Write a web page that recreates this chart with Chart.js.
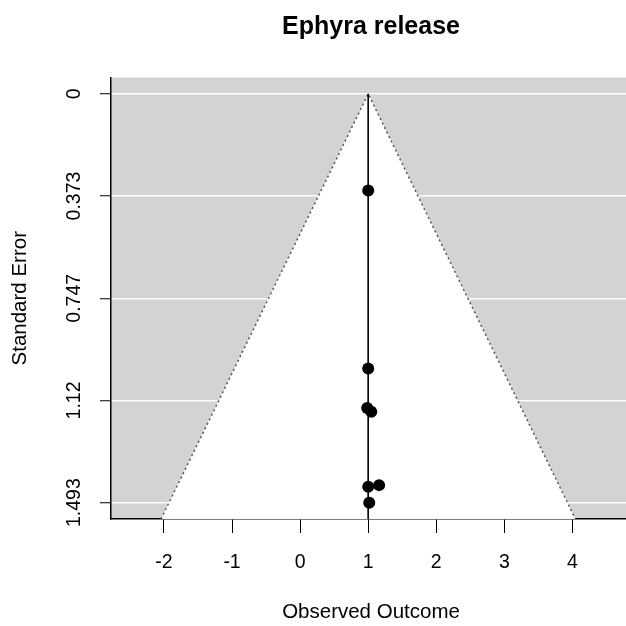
<!DOCTYPE html>
<html>
<head>
<meta charset="utf-8">
<script src="https://cdn.jsdelivr.net/npm/chart.js@4"></script>
<style>
  html, body { margin: 0; padding: 0; background: #fff; overflow: hidden; }
  #wrap { width: 742px; height: 626px; }
</style>
</head>
<body>
<div id="wrap"><canvas id="funnel" width="742" height="626"></canvas></div>
<script>
// study effects and their standard errors
const observedOutcome = [1.00, 1.00, 0.985, 1.045, 1.00, 1.16, 1.015];
const standardError = [0.353, 1.003, 1.147, 1.161, 1.435, 1.429, 1.493];
const pooledEstimate = 1.0;

const seTicks = [0, 0.37325, 0.7465, 1.11975, 1.493];
const seTickLabels = ['0', '0.373', '0.747', '1.12', '1.493'];
const outcomeTicks = [-2, -1, 0, 1, 2, 3, 4];
const seRange = [-0.0597, 1.5527];
const outcomeRange = [-2.778, 4.86];

const points = observedOutcome.map((v, i) => ({ x: v, y: standardError[i] }));
const seBottom = seRange[1];
// 95% pseudo confidence region
const funnel = [
  { x: pooledEstimate - 1.96 * seBottom, y: seBottom },
  { x: pooledEstimate, y: 0 },
  { x: pooledEstimate + 1.96 * seBottom, y: seBottom }
];
const refLine = [{ x: pooledEstimate, y: 0 }, { x: pooledEstimate, y: seBottom }];

const plotBackground = {
  id: 'plotBackground',
  beforeDraw(chart) {
    const { ctx, chartArea: a } = chart;
    ctx.save();
    ctx.fillStyle = '#d3d3d3';
    ctx.fillRect(a.left, a.top, a.right - a.left, a.bottom - a.top);
    ctx.restore();
  }
};

const font = 'Liberation Sans, Arial, Helvetica, sans-serif';

new Chart(document.getElementById('funnel'), {
  type: 'scatter',
  data: {
    datasets: [
      {
        label: 'Studies',
        data: points,
        order: 1,
        pointRadius: 6,
        pointBackgroundColor: '#000',
        pointBorderColor: '#000',
        pointBorderWidth: 0
      },
      {
        type: 'line',
        label: 'Estimate',
        data: refLine,
        order: 2,
        borderColor: '#000',
        borderWidth: 1,
        pointRadius: 0,
        fill: false
      },
      {
        type: 'line',
        label: 'Funnel',
        data: funnel,
        order: 3,
        borderColor: '#555',
        borderWidth: 1.5,
        borderDash: [2, 3],
        backgroundColor: '#fff',
        pointRadius: 0,
        tension: 0,
        fill: { value: seBottom }
      }
    ]
  },
  options: {
    responsive: false,
    animation: false,
    layout: { padding: { left: 0, right: 111, top: 0, bottom: 0 } },
    plugins: {
      legend: { display: false },
      tooltip: { enabled: false },
      title: {
        display: true,
        fullSize: false,
        text: 'Ephyra release',
        color: '#000',
        font: { family: font, size: 25, weight: 'bold' },
        padding: { top: 12, bottom: 35.5 }
      }
    },
    scales: {
      x: {
        type: 'linear',
        min: outcomeRange[0],
        max: outcomeRange[1],
        afterBuildTicks: s => { s.ticks = outcomeTicks.map(v => ({ value: v })); },
        afterFit: s => { s.height = 107; },
        grid: { drawOnChartArea: false, tickColor: '#000', tickLength: 14, tickWidth: 1 },
        border: { display: true, color: '#000', width: 1.5 },
        ticks: {
          color: '#000',
          font: { family: font, size: 19.5 },
          padding: 18,
          maxRotation: 0,
          autoSkip: false
        },
        title: {
          display: true,
          text: 'Observed Outcome',
          color: '#000',
          font: { family: font, size: 20.5 },
          padding: { top: 0, bottom: 1 }
        }
      },
      y: {
        type: 'linear',
        reverse: true,
        min: seRange[0],
        max: seRange[1],
        afterBuildTicks: s => { s.ticks = seTicks.map(v => ({ value: v })); },
        afterFit: s => { s.width = 111; },
        grid: { color: '#fff', lineWidth: 1.5, tickColor: '#000', tickLength: 11, tickWidth: 1 },
        border: { display: true, color: '#000', width: 1.5 },
        ticks: {
          color: '#000',
          font: { family: font, size: 19.5 },
          padding: 1,
          minRotation: 90,
          maxRotation: 90,
          crossAlign: 'center',
          autoSkip: false,
          callback: (v, i) => seTickLabels[i]
        },
        title: {
          display: true,
          text: 'Standard Error',
          color: '#000',
          font: { family: font, size: 20.5 },
          padding: { top: 8, bottom: 0 }
        }
      }
    }
  },
  plugins: [plotBackground]
});
</script>
</body>
</html>
